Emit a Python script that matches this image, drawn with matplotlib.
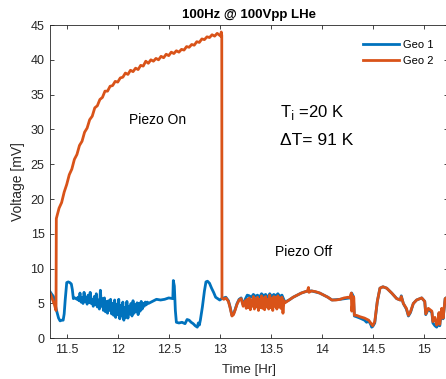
import matplotlib
matplotlib.use("Agg")
import matplotlib.pyplot as plt
from matplotlib.ticker import FuncFormatter

plt.rcParams['font.family'] = ['Liberation Sans', 'DejaVu Sans']

# Geo 1 (blue) readings, time [Hr] / voltage [mV]
geo1_t = [11.336, 11.35, 11.37, 11.385, 11.40, 11.42, 11.435, 11.45, 11.465, 11.475,
          11.485, 11.50, 11.515, 11.53, 11.545, 11.555, 11.565, 11.58, 11.60,
          11.61, 11.62, 11.63, 11.64, 11.65, 11.66, 11.67, 11.68, 11.69, 11.70,
          11.71, 11.72, 11.73, 11.74, 11.75, 11.76, 11.77, 11.78, 11.79, 11.80,
          11.81, 11.82, 11.83, 11.84, 11.85, 11.86, 11.87, 11.88, 11.89, 11.90,
          11.91, 11.92, 11.93, 11.94, 11.95, 11.96, 11.97, 11.98, 11.99, 12.00,
          12.01, 12.02, 12.03, 12.04, 12.05, 12.06, 12.07, 12.08, 12.09, 12.10,
          12.11, 12.12, 12.13, 12.14, 12.15, 12.16, 12.17, 12.18, 12.19, 12.20,
          12.21, 12.22, 12.23, 12.24, 12.25, 12.26, 12.27, 12.28, 12.29, 12.30,
          12.34, 12.38, 12.42, 12.46, 12.50, 12.54, 12.545, 12.555, 12.565, 12.575,
          12.60, 12.63, 12.66, 12.68, 12.70, 12.72, 12.74, 12.76, 12.78, 12.79,
          12.80, 12.81, 12.83, 12.85, 12.865, 12.88, 12.90, 12.92, 12.94, 12.96,
          12.98, 13.00, 13.02, 13.04, 13.06, 13.085, 13.10, 13.12, 13.135, 13.15,
          13.17, 13.19, 13.21, 13.23, 13.25, 13.27, 13.29, 13.31, 13.33, 13.35,
          13.37, 13.39, 13.41, 13.43, 13.45, 13.47, 13.49, 13.51, 13.53, 13.55,
          13.57, 13.59, 13.61, 13.63, 13.64, 13.68, 13.72, 13.76, 13.80, 13.84,
          13.87, 13.90, 13.98, 14.06, 14.10, 14.18, 14.277, 14.294, 14.31, 14.32,
          14.34, 14.375, 14.42, 14.44, 14.46, 14.48, 14.49, 14.50, 14.52, 14.545,
          14.571, 14.60, 14.637, 14.686, 14.735, 14.77, 14.78, 14.80, 14.83, 14.85,
          14.87, 14.898, 14.93, 14.98, 15.01, 15.02, 15.045, 15.08, 15.09, 15.11,
          15.127, 15.14, 15.15, 15.157, 15.176, 15.19, 15.21, 15.24]
geo1_v = [6.7, 6.4, 6.0, 5.0, 4.0, 2.9, 2.5, 2.6, 2.6, 3.5,
          5.5, 8.0, 8.1, 8.0, 7.8, 7.0, 5.7, 5.8, 5.6,
          5.9, 5.4, 6.5, 5.2, 5.8, 5.0, 6.6, 5.3, 5.9, 4.9,
          6.2, 5.1, 6.6, 5.0, 5.6, 4.6, 6.0, 4.8, 6.4, 4.5,
          5.5, 4.2, 6.9, 4.6, 5.7, 4.0, 5.8, 3.8, 5.3, 3.6,
          5.4, 4.0, 5.6, 3.5, 5.0, 3.3, 5.5, 3.0, 4.9, 3.4,
          5.6, 2.8, 4.7, 3.2, 5.2, 2.6, 4.4, 3.0, 5.3, 2.9,
          4.6, 3.5, 5.0, 3.2, 5.4, 3.6, 4.8, 3.8, 5.1, 3.4,
          5.0, 3.9, 5.3, 4.2, 5.0, 4.6, 5.2, 4.8, 5.2, 5.0,
          5.3, 5.6, 5.5, 5.6, 5.8, 5.7, 8.3, 7.5, 4.0, 2.3,
          2.2, 2.3, 2.1, 2.7, 2.6, 2.3, 2.1, 1.8, 1.6, 2.2,
          1.9, 2.6, 4.5, 6.8, 8.1, 8.2, 7.9, 7.2, 6.6, 5.9,
          5.7, 5.5, 5.7, 5.8, 5.9, 5.4, 4.6, 3.3, 3.5, 4.1,
          5.0, 5.6, 5.8, 4.8, 5.6, 6.2, 6.1, 5.9, 6.3, 6.0,
          6.2, 5.9, 6.4, 6.1, 6.3, 5.8, 6.4, 6.0, 6.3, 6.1,
          6.4, 6.0, 6.2, 5.5, 5.2, 5.5, 5.9, 6.2, 6.5, 6.7,
          6.8, 6.8, 6.5, 5.9, 5.5, 5.6, 5.8, 6.5, 6.0, 3.2,
          3.1, 2.9, 2.6, 2.3, 2.5, 2.0, 1.6, 1.7, 2.2, 5.3,
          7.2, 7.4, 7.2, 6.5, 5.7, 5.5, 6.1, 5.0, 4.2, 3.2,
          3.7, 5.0, 5.5, 5.8, 5.3, 3.4, 4.2, 3.7, 2.2, 1.8,
          1.6, 2.0, 3.6, 1.8, 4.2, 2.8, 5.7, 6.0]

# Geo 2 (orange) readings
geo2_t = [11.336, 11.35, 11.365, 11.38, 11.39, 11.395, 11.398,
          11.425, 11.45, 11.475, 11.50, 11.525, 11.55, 11.575, 11.60, 11.625, 11.65,
          11.675, 11.70, 11.725, 11.75, 11.775, 11.80, 11.825, 11.85, 11.875, 11.90,
          11.925, 11.95, 11.975, 12.00, 12.025, 12.05, 12.075, 12.10, 12.125, 12.15,
          12.175, 12.20, 12.225, 12.25, 12.275, 12.30, 12.325, 12.35, 12.375, 12.40,
          12.425, 12.45, 12.475, 12.50, 12.525, 12.55, 12.575, 12.60, 12.625, 12.65,
          12.675, 12.70, 12.725, 12.75, 12.775, 12.80, 12.825, 12.85, 12.875, 12.90,
          12.925, 12.95, 12.975, 13.00, 13.01, 13.015, 13.02, 13.022,
          13.04, 13.06, 13.085, 13.10, 13.12, 13.135, 13.15, 13.17, 13.19, 13.21,
          13.23, 13.25, 13.26, 13.27, 13.28, 13.29, 13.30, 13.31, 13.32, 13.33,
          13.34, 13.35, 13.36, 13.37, 13.38, 13.39, 13.40, 13.41, 13.42, 13.43,
          13.44, 13.45, 13.46, 13.47, 13.48, 13.49, 13.50, 13.51, 13.52, 13.53,
          13.54, 13.55, 13.56, 13.57, 13.58, 13.59, 13.60, 13.61, 13.62, 13.63,
          13.64, 13.68, 13.72, 13.76, 13.80, 13.84, 13.86, 13.87, 13.875, 13.90,
          13.94, 13.98, 14.02, 14.06, 14.10, 14.14, 14.18, 14.22, 14.26, 14.277,
          14.285, 14.29, 14.294, 14.31, 14.315, 14.32, 14.34, 14.375, 14.42, 14.46,
          14.49, 14.50, 14.52, 14.545, 14.571, 14.60, 14.637, 14.686, 14.735, 14.77,
          14.78, 14.80, 14.83, 14.85, 14.87, 14.898, 14.93, 14.98, 15.01, 15.02,
          15.045, 15.08, 15.09, 15.11, 15.127, 15.14, 15.15, 15.157, 15.176, 15.19,
          15.21, 15.24]
geo2_v = [6.5, 6.0, 5.4, 4.8, 4.3, 4.0, 17.2,
          18.7, 19.5, 21.0, 22.1, 23.5, 24.3, 25.7, 26.4, 27.7, 28.3,
          29.6, 30.2, 31.4, 31.9, 33.1, 33.4, 34.3, 34.6, 35.5, 35.5,
          36.2, 36.3, 36.9, 36.8, 37.4, 37.5, 38.1, 37.9, 38.5, 38.3,
          38.8, 38.6, 39.2, 39.1, 39.8, 39.5, 40.0, 39.8, 40.2, 40.0,
          40.5, 40.3, 40.8, 40.6, 41.1, 40.9, 41.3, 41.1, 41.5, 41.4,
          41.9, 41.8, 42.2, 42.1, 42.6, 42.5, 43.0, 42.9, 43.3, 43.2,
          43.6, 43.4, 43.8, 43.5, 43.4, 44.0, 43.5, 5.8,
          5.6, 5.8, 5.3, 4.5, 3.2, 3.4, 4.0, 4.9, 5.5, 5.7,
          4.6, 5.4, 4.3, 5.6, 4.4, 5.8, 4.1, 5.5, 4.6, 6.0,
          4.2, 5.7, 4.5, 5.9, 4.0, 5.6, 4.4, 6.1, 4.3, 5.8,
          4.1, 6.0, 4.5, 5.6, 4.2, 6.2, 4.4, 5.7, 4.0, 6.0,
          4.6, 5.9, 4.2, 6.1, 4.5, 5.8, 4.3, 5.9, 3.6, 5.4,
          5.1, 5.5, 5.9, 6.2, 6.5, 6.7, 6.8, 7.3, 6.6, 6.8,
          6.7, 6.5, 6.2, 5.9, 5.5, 5.5, 5.6, 5.8, 5.9, 5.8,
          6.2, 6.5, 3.9, 6.0, 5.8, 3.3, 3.3, 3.1, 2.9, 2.6,
          2.0, 1.8, 2.4, 5.3, 7.2, 7.4, 7.2, 6.5, 5.7, 5.5,
          6.0, 5.0, 4.3, 3.3, 3.8, 5.0, 5.5, 5.8, 5.3, 3.5,
          4.3, 3.9, 2.4, 3.0, 1.9, 2.6, 3.7, 2.0, 4.3, 2.9,
          5.7, 6.0]

x_ticks = [11.5, 12, 12.5, 13, 13.5, 14, 14.5, 15]
y_ticks = [0, 5, 10, 15, 20, 25, 30, 35, 40, 45]

fig = plt.figure(figsize=(4.46, 3.79), dpi=100)
ax = fig.add_axes([50 / 446, 40.7 / 379, 398 / 446, 313.3 / 379])

ax.plot(geo1_t, geo1_v, color='#0072BD', lw=2.0, label='Geo 1')
ax.plot(geo2_t, geo2_v, color='#D95319', lw=2.0, label='Geo 2')

ax.set_xlim(11.336, 15.238)
ax.set_ylim(0, 45)
ax.set_xticks(x_ticks)
ax.set_yticks(y_ticks)
ax.xaxis.set_major_formatter(FuncFormatter(lambda v, p: '%g' % v))
ax.tick_params(direction='in', top=True, right=True, length=3, width=0.6,
               labelsize=9, colors='#262626', pad=4)
for s in ax.spines.values():
    s.set_color('#262626')
    s.set_linewidth(0.6)

ax.set_title('100Hz @ 100Vpp LHe', fontsize=9.5, fontweight='bold', color='#000000', pad=5)
ax.set_xlabel('Time [Hr]', fontsize=9.5, color='#262626', labelpad=6)
ax.set_ylabel('Voltage [mV]', fontsize=10, color='#262626', labelpad=4)

ax.text(12.39, 31.3, 'Piezo On', fontsize=10, ha='center', va='center')
ax.text(13.826, 12.45, 'Piezo Off', fontsize=10, ha='center', va='center')
ax.text(13.59, 31.8, r'T$_{\mathrm{i}}$ =20 K', fontsize=12, ha='left', va='baseline')
ax.text(13.59, 27.7, '\u0394T= 91 K', fontsize=12.5, ha='left', va='baseline')

ax.legend(loc='upper left', bbox_to_anchor=(363 / 446, 1 - 40 / 379),
          bbox_transform=fig.transFigure, frameon=False, fontsize=8,
          handlelength=3.2, handletextpad=0.4, labelspacing=0.5, borderpad=0,
          borderaxespad=0)

fig.savefig('out.png', dpi=100)
